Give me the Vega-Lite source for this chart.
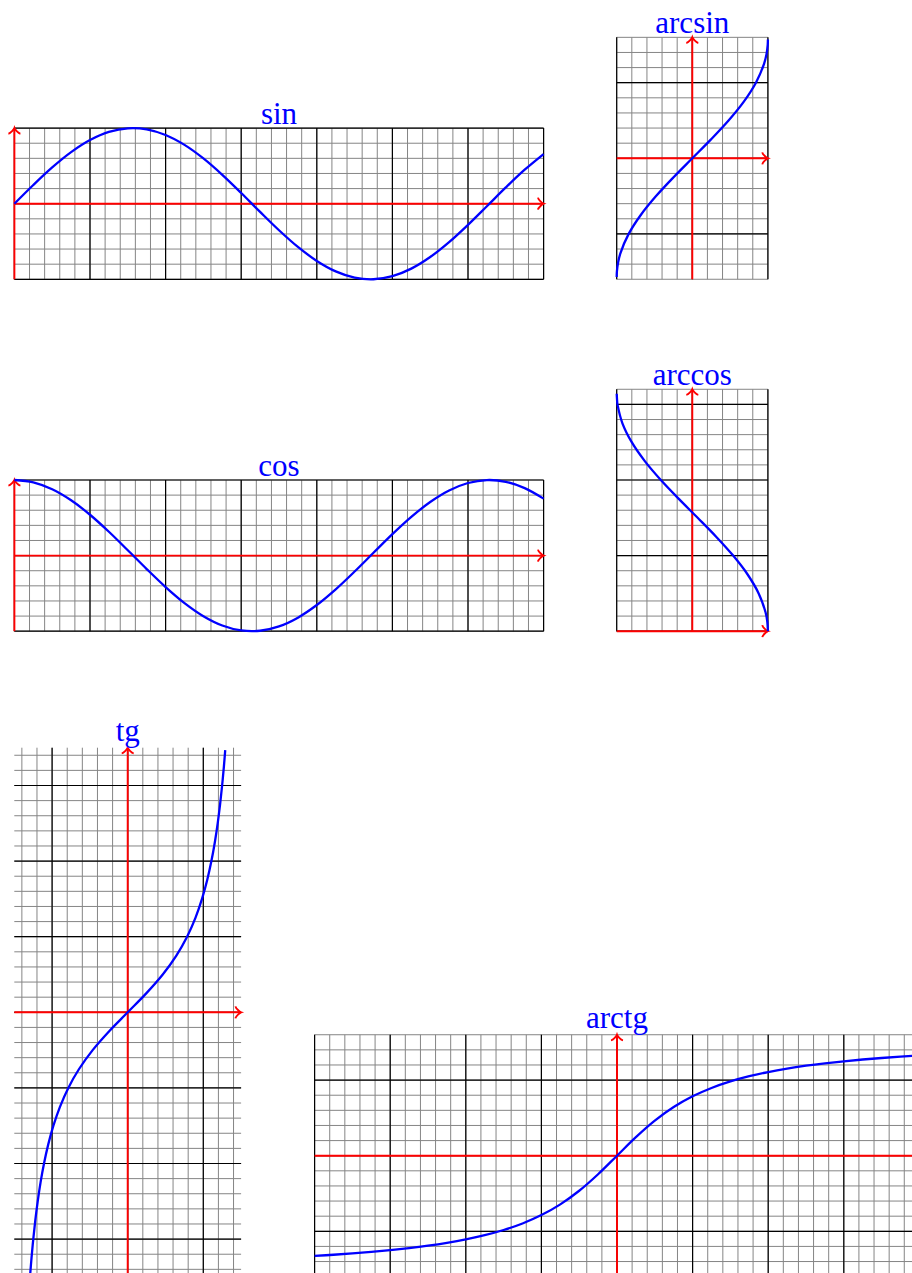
{
  "$schema": "https://vega.github.io/schema/vega-lite/v6.json",
  "padding": 0,
  "spacing": 0,
  "background": "white",
  "config": {"view": {"stroke": null}, "axis": {"disable": true}, "concat": {"spacing": 0}},
  "datasets": {
    "g": [{"v":-4},{"v":-3.8},{"v":-3.6},{"v":-3.4},{"v":-3.2},{"v":-3},{"v":-2.8},{"v":-2.6},{"v":-2.4},{"v":-2.2},{"v":-2},{"v":-1.8},{"v":-1.6},{"v":-1.4},{"v":-1.2},{"v":-1},{"v":-0.8},{"v":-0.6},{"v":-0.4},{"v":-0.2},{"v":0},{"v":0.2},{"v":0.4},{"v":0.6},{"v":0.8},{"v":1},{"v":1.2},{"v":1.4},{"v":1.6},{"v":1.8},{"v":2},{"v":2.2},{"v":2.4},{"v":2.6},{"v":2.8},{"v":3},{"v":3.2},{"v":3.4},{"v":3.6},{"v":3.8},{"v":4},{"v":4.2},{"v":4.4},{"v":4.6},{"v":4.8},{"v":5},{"v":5.2},{"v":5.4},{"v":5.6},{"v":5.8},{"v":6},{"v":6.2},{"v":6.4},{"v":6.6},{"v":6.8},{"v":7}],
    "gm": [{"v":-4},{"v":-3},{"v":-2},{"v":-1},{"v":0},{"v":1},{"v":2},{"v":3},{"v":4},{"v":5},{"v":6},{"v":7}],
    "sin": [{"x":0,"y":0},{"x":0.25,"y":0.2474},{"x":0.5,"y":0.4794},{"x":0.75,"y":0.6816},{"x":1,"y":0.8415},{"x":1.25,"y":0.949},{"x":1.5,"y":0.9975},{"x":1.75,"y":0.984},{"x":2,"y":0.9093},{"x":2.25,"y":0.7781},{"x":2.5,"y":0.5985},{"x":2.75,"y":0.3817},{"x":3,"y":0.1411},{"x":3.25,"y":-0.1082},{"x":3.5,"y":-0.3508},{"x":3.75,"y":-0.5716},{"x":4,"y":-0.7568},{"x":4.25,"y":-0.895},{"x":4.5,"y":-0.9775},{"x":4.75,"y":-0.9993},{"x":5,"y":-0.9589},{"x":5.25,"y":-0.8589},{"x":5.5,"y":-0.7055},{"x":5.75,"y":-0.5083},{"x":6,"y":-0.2794},{"x":6.25,"y":-0.0332},{"x":6.5,"y":0.2151},{"x":6.75,"y":0.45},{"x":7,"y":0.657}],
    "cos": [{"x":0,"y":1},{"x":0.25,"y":0.9689},{"x":0.5,"y":0.8776},{"x":0.75,"y":0.7317},{"x":1,"y":0.5403},{"x":1.25,"y":0.3153},{"x":1.5,"y":0.0707},{"x":1.75,"y":-0.1782},{"x":2,"y":-0.4161},{"x":2.25,"y":-0.6282},{"x":2.5,"y":-0.8011},{"x":2.75,"y":-0.9243},{"x":3,"y":-0.99},{"x":3.25,"y":-0.9941},{"x":3.5,"y":-0.9365},{"x":3.75,"y":-0.8206},{"x":4,"y":-0.6536},{"x":4.25,"y":-0.4461},{"x":4.5,"y":-0.2108},{"x":4.75,"y":0.0376},{"x":5,"y":0.2837},{"x":5.25,"y":0.512},{"x":5.5,"y":0.7087},{"x":5.75,"y":0.8612},{"x":6,"y":0.9602},{"x":6.25,"y":0.9994},{"x":6.5,"y":0.9766},{"x":6.75,"y":0.893},{"x":7,"y":0.7539}],
    "arcsin": [{"x":-1,"y":-1.5708},{"x":-0.9975,"y":-1.5},{"x":-0.9809,"y":-1.375},{"x":-0.949,"y":-1.25},{"x":-0.8415,"y":-1},{"x":-0.6816,"y":-0.75},{"x":-0.4794,"y":-0.5},{"x":-0.2474,"y":-0.25},{"x":0,"y":0},{"x":0.2474,"y":0.25},{"x":0.4794,"y":0.5},{"x":0.6816,"y":0.75},{"x":0.8415,"y":1},{"x":0.949,"y":1.25},{"x":0.9809,"y":1.375},{"x":0.9975,"y":1.5},{"x":1,"y":1.5708}],
    "arccos": [{"x":1,"y":0},{"x":0.9922,"y":0.125},{"x":0.9689,"y":0.25},{"x":0.8776,"y":0.5},{"x":0.7317,"y":0.75},{"x":0.5403,"y":1},{"x":0.3153,"y":1.25},{"x":0.0707,"y":1.5},{"x":-0.1782,"y":1.75},{"x":-0.4161,"y":2},{"x":-0.6282,"y":2.25},{"x":-0.8011,"y":2.5},{"x":-0.9243,"y":2.75},{"x":-0.99,"y":3},{"x":-0.9922,"y":3.0166},{"x":-1,"y":3.1416}],
    "tg": [{"x":-1.29,"y":-3.467},{"x":-1.2723,"y":-3.25},{"x":-1.249,"y":-3},{"x":-1.222,"y":-2.75},{"x":-1.1903,"y":-2.5},{"x":-1.1526,"y":-2.25},{"x":-1.1071,"y":-2},{"x":-1.0517,"y":-1.75},{"x":-0.9828,"y":-1.5},{"x":-0.8961,"y":-1.25},{"x":-0.7854,"y":-1},{"x":-0.6435,"y":-0.75},{"x":-0.4636,"y":-0.5},{"x":-0.245,"y":-0.25},{"x":0,"y":0},{"x":0.245,"y":0.25},{"x":0.4636,"y":0.5},{"x":0.6435,"y":0.75},{"x":0.7854,"y":1},{"x":0.8961,"y":1.25},{"x":0.9828,"y":1.5},{"x":1.0517,"y":1.75},{"x":1.1071,"y":2},{"x":1.1526,"y":2.25},{"x":1.1903,"y":2.5},{"x":1.222,"y":2.75},{"x":1.249,"y":3},{"x":1.2723,"y":3.25},{"x":1.29,"y":3.467}],
    "arctg": [{"x":-4,"y":-1.3258},{"x":-3.75,"y":-1.3102},{"x":-3.5,"y":-1.2925},{"x":-3.25,"y":-1.2723},{"x":-3,"y":-1.249},{"x":-2.75,"y":-1.222},{"x":-2.5,"y":-1.1903},{"x":-2.25,"y":-1.1526},{"x":-2,"y":-1.1071},{"x":-1.75,"y":-1.0517},{"x":-1.5,"y":-0.9828},{"x":-1.25,"y":-0.8961},{"x":-1,"y":-0.7854},{"x":-0.75,"y":-0.6435},{"x":-0.5,"y":-0.4636},{"x":-0.25,"y":-0.245},{"x":0,"y":0},{"x":0.25,"y":0.245},{"x":0.5,"y":0.4636},{"x":0.75,"y":0.6435},{"x":1,"y":0.7854},{"x":1.25,"y":0.8961},{"x":1.5,"y":0.9828},{"x":1.75,"y":1.0517},{"x":2,"y":1.1071},{"x":2.25,"y":1.1526},{"x":2.5,"y":1.1903},{"x":2.75,"y":1.222},{"x":3,"y":1.249},{"x":3.25,"y":1.2723},{"x":3.5,"y":1.2925},{"x":3.75,"y":1.3102},{"x":4,"y":1.3258}]
  },
  "vconcat": [
    {"spacing": 0, "hconcat": [
      {"width": 580, "height": 330, "layer": [
        {"data":{"name":"g"},"transform":[{"filter":"datum.v>-0.001&&datum.v<7.001"}],"mark":{"type":"rule","stroke":"#858585","strokeWidth":1},"encoding":{"x":{"field":"v","type":"quantitative","scale":{"domain":[-0.19048,7.48148],"nice":false,"zero":false}},"y":{"datum":-1,"type":"quantitative","scale":{"domain":[-1.67063,2.69444],"nice":false,"zero":false}},"y2":{"datum":1}}},
        {"data":{"name":"g"},"transform":[{"filter":"datum.v>-1.001&&datum.v<1.001"}],"mark":{"type":"rule","stroke":"#858585","strokeWidth":1},"encoding":{"y":{"field":"v","type":"quantitative","scale":{"domain":[-1.67063,2.69444],"nice":false,"zero":false}},"x":{"datum":0,"type":"quantitative","scale":{"domain":[-0.19048,7.48148],"nice":false,"zero":false}},"x2":{"datum":7}}},
        {"data":{"name":"gm"},"transform":[{"filter":"datum.v>-0.001&&datum.v<7.001"}],"mark":{"type":"rule","stroke":"#000000","strokeWidth":1.2},"encoding":{"x":{"field":"v","type":"quantitative","scale":{"domain":[-0.19048,7.48148],"nice":false,"zero":false}},"y":{"datum":-1,"type":"quantitative","scale":{"domain":[-1.67063,2.69444],"nice":false,"zero":false}},"y2":{"datum":1}}},
        {"data":{"name":"gm"},"transform":[{"filter":"datum.v>-1.001&&datum.v<1.001"}],"mark":{"type":"rule","stroke":"#000000","strokeWidth":1.2},"encoding":{"y":{"field":"v","type":"quantitative","scale":{"domain":[-1.67063,2.69444],"nice":false,"zero":false}},"x":{"datum":0,"type":"quantitative","scale":{"domain":[-0.19048,7.48148],"nice":false,"zero":false}},"x2":{"datum":7}}},
        {"data":{"values":[{}]},"mark":{"type":"rule","stroke":"#ff0000","strokeWidth":1.9},"encoding":{"x":{"datum":0,"type":"quantitative","scale":{"domain":[-0.19048,7.48148],"nice":false,"zero":false}},"x2":{"datum":7},"y":{"datum":0,"type":"quantitative","scale":{"domain":[-1.67063,2.69444],"nice":false,"zero":false}}}},
        {"data":{"values":[{}]},"mark":{"type":"rule","stroke":"#ff0000","strokeWidth":1.9},"encoding":{"x":{"datum":0,"type":"quantitative","scale":{"domain":[-0.19048,7.48148],"nice":false,"zero":false}},"y":{"datum":-1,"type":"quantitative","scale":{"domain":[-1.67063,2.69444],"nice":false,"zero":false}},"y2":{"datum":1}}},
        {"data":{"values":[{}]},"mark":{"type":"point","shape":"M-1,0.9375C-0.625,0.875 -0.0625,0.1875 0,0C0.0625,0.1875 0.625,0.875 1,0.9375","size":144,"filled":false,"stroke":"#ff0000","strokeWidth":1.9,"opacity":1},"encoding":{"x":{"datum":0,"type":"quantitative","scale":{"domain":[-0.19048,7.48148],"nice":false,"zero":false}},"y":{"datum":1,"type":"quantitative","scale":{"domain":[-1.67063,2.69444],"nice":false,"zero":false}}}},
        {"data":{"values":[{}]},"mark":{"type":"point","shape":"M-1,0.9375C-0.625,0.875 -0.0625,0.1875 0,0C0.0625,0.1875 0.625,0.875 1,0.9375","angle":90,"size":144,"filled":false,"stroke":"#ff0000","strokeWidth":1.9,"opacity":1},"encoding":{"x":{"datum":7,"type":"quantitative","scale":{"domain":[-0.19048,7.48148],"nice":false,"zero":false}},"y":{"datum":0,"type":"quantitative","scale":{"domain":[-1.67063,2.69444],"nice":false,"zero":false}}}},
        {"data":{"name":"sin"},"mark":{"type":"line","color":"#0000ff","strokeWidth":2.3,"interpolate":"catmull-rom"},"encoding":{"x":{"field":"x","type":"quantitative","scale":{"domain":[-0.19048,7.48148],"nice":false,"zero":false}},"y":{"field":"y","type":"quantitative","scale":{"domain":[-1.67063,2.69444],"nice":false,"zero":false}}}},
        {"data":{"values":[{"label":"sin"}]},"mark":{"type":"text","font":"Liberation Serif","fontSize":31,"color":"#0000ff","align":"center","baseline":"alphabetic","dy":-4},"encoding":{"x":{"datum":3.5,"type":"quantitative","scale":{"domain":[-0.19048,7.48148],"nice":false,"zero":false}},"y":{"datum":1,"type":"quantitative","scale":{"domain":[-1.67063,2.69444],"nice":false,"zero":false}},"text":{"field":"label"}}}
      ]},
      {"width": 332, "height": 330, "layer": [
        {"data":{"name":"g"},"transform":[{"filter":"datum.v>-1.001&&datum.v<1.001"}],"mark":{"type":"rule","stroke":"#858585","strokeWidth":1},"encoding":{"x":{"field":"v","type":"quantitative","scale":{"domain":[-1.48545,2.90608],"nice":false,"zero":false}},"y":{"datum":-1.6,"type":"quantitative","scale":{"domain":[-2.27116,2.09392],"nice":false,"zero":false}},"y2":{"datum":1.6}}},
        {"data":{"name":"g"},"transform":[{"filter":"datum.v>-1.601&&datum.v<1.601"}],"mark":{"type":"rule","stroke":"#858585","strokeWidth":1},"encoding":{"y":{"field":"v","type":"quantitative","scale":{"domain":[-2.27116,2.09392],"nice":false,"zero":false}},"x":{"datum":-1,"type":"quantitative","scale":{"domain":[-1.48545,2.90608],"nice":false,"zero":false}},"x2":{"datum":1}}},
        {"data":{"name":"gm"},"transform":[{"filter":"datum.v>-1.001&&datum.v<1.001"}],"mark":{"type":"rule","stroke":"#000000","strokeWidth":1.2},"encoding":{"x":{"field":"v","type":"quantitative","scale":{"domain":[-1.48545,2.90608],"nice":false,"zero":false}},"y":{"datum":-1.6,"type":"quantitative","scale":{"domain":[-2.27116,2.09392],"nice":false,"zero":false}},"y2":{"datum":1.6}}},
        {"data":{"name":"gm"},"transform":[{"filter":"datum.v>-1.601&&datum.v<1.601"}],"mark":{"type":"rule","stroke":"#000000","strokeWidth":1.2},"encoding":{"y":{"field":"v","type":"quantitative","scale":{"domain":[-2.27116,2.09392],"nice":false,"zero":false}},"x":{"datum":-1,"type":"quantitative","scale":{"domain":[-1.48545,2.90608],"nice":false,"zero":false}},"x2":{"datum":1}}},
        {"data":{"values":[{}]},"mark":{"type":"rule","stroke":"#ff0000","strokeWidth":1.9},"encoding":{"x":{"datum":-1,"type":"quantitative","scale":{"domain":[-1.48545,2.90608],"nice":false,"zero":false}},"x2":{"datum":1},"y":{"datum":0,"type":"quantitative","scale":{"domain":[-2.27116,2.09392],"nice":false,"zero":false}}}},
        {"data":{"values":[{}]},"mark":{"type":"rule","stroke":"#ff0000","strokeWidth":1.9},"encoding":{"x":{"datum":0,"type":"quantitative","scale":{"domain":[-1.48545,2.90608],"nice":false,"zero":false}},"y":{"datum":-1.6,"type":"quantitative","scale":{"domain":[-2.27116,2.09392],"nice":false,"zero":false}},"y2":{"datum":1.6}}},
        {"data":{"values":[{}]},"mark":{"type":"point","shape":"M-1,0.9375C-0.625,0.875 -0.0625,0.1875 0,0C0.0625,0.1875 0.625,0.875 1,0.9375","size":144,"filled":false,"stroke":"#ff0000","strokeWidth":1.9,"opacity":1},"encoding":{"x":{"datum":0,"type":"quantitative","scale":{"domain":[-1.48545,2.90608],"nice":false,"zero":false}},"y":{"datum":1.6,"type":"quantitative","scale":{"domain":[-2.27116,2.09392],"nice":false,"zero":false}}}},
        {"data":{"values":[{}]},"mark":{"type":"point","shape":"M-1,0.9375C-0.625,0.875 -0.0625,0.1875 0,0C0.0625,0.1875 0.625,0.875 1,0.9375","angle":90,"size":144,"filled":false,"stroke":"#ff0000","strokeWidth":1.9,"opacity":1},"encoding":{"x":{"datum":1,"type":"quantitative","scale":{"domain":[-1.48545,2.90608],"nice":false,"zero":false}},"y":{"datum":0,"type":"quantitative","scale":{"domain":[-2.27116,2.09392],"nice":false,"zero":false}}}},
        {"data":{"name":"arcsin"},"mark":{"type":"line","color":"#0000ff","strokeWidth":2.3,"interpolate":"catmull-rom"},"encoding":{"x":{"field":"x","type":"quantitative","scale":{"domain":[-1.48545,2.90608],"nice":false,"zero":false}},"y":{"field":"y","type":"quantitative","scale":{"domain":[-2.27116,2.09392],"nice":false,"zero":false}}}},
        {"data":{"values":[{"label":"arcsin"}]},"mark":{"type":"text","font":"Liberation Serif","fontSize":31,"color":"#0000ff","align":"center","baseline":"alphabetic","dy":-4.6},"encoding":{"x":{"datum":0,"type":"quantitative","scale":{"domain":[-1.48545,2.90608],"nice":false,"zero":false}},"y":{"datum":1.6,"type":"quantitative","scale":{"domain":[-2.27116,2.09392],"nice":false,"zero":false}},"text":{"field":"label"}}}
      ]}
    ]},
    {"spacing": 0, "hconcat": [
      {"width": 580, "height": 360, "layer": [
        {"data":{"name":"g"},"transform":[{"filter":"datum.v>-0.001&&datum.v<7.001"}],"mark":{"type":"rule","stroke":"#858585","strokeWidth":1},"encoding":{"x":{"field":"v","type":"quantitative","scale":{"domain":[-0.19048,7.48148],"nice":false,"zero":false}},"y":{"datum":-1,"type":"quantitative","scale":{"domain":[-1.77778,2.98413],"nice":false,"zero":false}},"y2":{"datum":1}}},
        {"data":{"name":"g"},"transform":[{"filter":"datum.v>-1.001&&datum.v<1.001"}],"mark":{"type":"rule","stroke":"#858585","strokeWidth":1},"encoding":{"y":{"field":"v","type":"quantitative","scale":{"domain":[-1.77778,2.98413],"nice":false,"zero":false}},"x":{"datum":0,"type":"quantitative","scale":{"domain":[-0.19048,7.48148],"nice":false,"zero":false}},"x2":{"datum":7}}},
        {"data":{"name":"gm"},"transform":[{"filter":"datum.v>-0.001&&datum.v<7.001"}],"mark":{"type":"rule","stroke":"#000000","strokeWidth":1.2},"encoding":{"x":{"field":"v","type":"quantitative","scale":{"domain":[-0.19048,7.48148],"nice":false,"zero":false}},"y":{"datum":-1,"type":"quantitative","scale":{"domain":[-1.77778,2.98413],"nice":false,"zero":false}},"y2":{"datum":1}}},
        {"data":{"name":"gm"},"transform":[{"filter":"datum.v>-1.001&&datum.v<1.001"}],"mark":{"type":"rule","stroke":"#000000","strokeWidth":1.2},"encoding":{"y":{"field":"v","type":"quantitative","scale":{"domain":[-1.77778,2.98413],"nice":false,"zero":false}},"x":{"datum":0,"type":"quantitative","scale":{"domain":[-0.19048,7.48148],"nice":false,"zero":false}},"x2":{"datum":7}}},
        {"data":{"values":[{}]},"mark":{"type":"rule","stroke":"#ff0000","strokeWidth":1.9},"encoding":{"x":{"datum":0,"type":"quantitative","scale":{"domain":[-0.19048,7.48148],"nice":false,"zero":false}},"x2":{"datum":7},"y":{"datum":0,"type":"quantitative","scale":{"domain":[-1.77778,2.98413],"nice":false,"zero":false}}}},
        {"data":{"values":[{}]},"mark":{"type":"rule","stroke":"#ff0000","strokeWidth":1.9},"encoding":{"x":{"datum":0,"type":"quantitative","scale":{"domain":[-0.19048,7.48148],"nice":false,"zero":false}},"y":{"datum":-1,"type":"quantitative","scale":{"domain":[-1.77778,2.98413],"nice":false,"zero":false}},"y2":{"datum":1}}},
        {"data":{"values":[{}]},"mark":{"type":"point","shape":"M-1,0.9375C-0.625,0.875 -0.0625,0.1875 0,0C0.0625,0.1875 0.625,0.875 1,0.9375","size":144,"filled":false,"stroke":"#ff0000","strokeWidth":1.9,"opacity":1},"encoding":{"x":{"datum":0,"type":"quantitative","scale":{"domain":[-0.19048,7.48148],"nice":false,"zero":false}},"y":{"datum":1,"type":"quantitative","scale":{"domain":[-1.77778,2.98413],"nice":false,"zero":false}}}},
        {"data":{"values":[{}]},"mark":{"type":"point","shape":"M-1,0.9375C-0.625,0.875 -0.0625,0.1875 0,0C0.0625,0.1875 0.625,0.875 1,0.9375","angle":90,"size":144,"filled":false,"stroke":"#ff0000","strokeWidth":1.9,"opacity":1},"encoding":{"x":{"datum":7,"type":"quantitative","scale":{"domain":[-0.19048,7.48148],"nice":false,"zero":false}},"y":{"datum":0,"type":"quantitative","scale":{"domain":[-1.77778,2.98413],"nice":false,"zero":false}}}},
        {"data":{"name":"cos"},"mark":{"type":"line","color":"#0000ff","strokeWidth":2.3,"interpolate":"catmull-rom"},"encoding":{"x":{"field":"x","type":"quantitative","scale":{"domain":[-0.19048,7.48148],"nice":false,"zero":false}},"y":{"field":"y","type":"quantitative","scale":{"domain":[-1.77778,2.98413],"nice":false,"zero":false}}}},
        {"data":{"values":[{"label":"cos"}]},"mark":{"type":"text","font":"Liberation Serif","fontSize":31,"color":"#0000ff","align":"center","baseline":"alphabetic","dy":-4},"encoding":{"x":{"datum":3.5,"type":"quantitative","scale":{"domain":[-0.19048,7.48148],"nice":false,"zero":false}},"y":{"datum":1,"type":"quantitative","scale":{"domain":[-1.77778,2.98413],"nice":false,"zero":false}},"text":{"field":"label"}}}
      ]},
      {"width": 332, "height": 360, "layer": [
        {"data":{"name":"g"},"transform":[{"filter":"datum.v>-1.001&&datum.v<1.001"}],"mark":{"type":"rule","stroke":"#858585","strokeWidth":1},"encoding":{"x":{"field":"v","type":"quantitative","scale":{"domain":[-1.48545,2.90608],"nice":false,"zero":false}},"y":{"datum":0,"type":"quantitative","scale":{"domain":[-0.77778,3.98413],"nice":false,"zero":false}},"y2":{"datum":3.2}}},
        {"data":{"name":"g"},"transform":[{"filter":"datum.v>-0.001&&datum.v<3.201"}],"mark":{"type":"rule","stroke":"#858585","strokeWidth":1},"encoding":{"y":{"field":"v","type":"quantitative","scale":{"domain":[-0.77778,3.98413],"nice":false,"zero":false}},"x":{"datum":-1,"type":"quantitative","scale":{"domain":[-1.48545,2.90608],"nice":false,"zero":false}},"x2":{"datum":1}}},
        {"data":{"name":"gm"},"transform":[{"filter":"datum.v>-1.001&&datum.v<1.001"}],"mark":{"type":"rule","stroke":"#000000","strokeWidth":1.2},"encoding":{"x":{"field":"v","type":"quantitative","scale":{"domain":[-1.48545,2.90608],"nice":false,"zero":false}},"y":{"datum":0,"type":"quantitative","scale":{"domain":[-0.77778,3.98413],"nice":false,"zero":false}},"y2":{"datum":3.2}}},
        {"data":{"name":"gm"},"transform":[{"filter":"datum.v>-0.001&&datum.v<3.201"}],"mark":{"type":"rule","stroke":"#000000","strokeWidth":1.2},"encoding":{"y":{"field":"v","type":"quantitative","scale":{"domain":[-0.77778,3.98413],"nice":false,"zero":false}},"x":{"datum":-1,"type":"quantitative","scale":{"domain":[-1.48545,2.90608],"nice":false,"zero":false}},"x2":{"datum":1}}},
        {"data":{"values":[{}]},"mark":{"type":"rule","stroke":"#ff0000","strokeWidth":1.9},"encoding":{"x":{"datum":-1,"type":"quantitative","scale":{"domain":[-1.48545,2.90608],"nice":false,"zero":false}},"x2":{"datum":1},"y":{"datum":0,"type":"quantitative","scale":{"domain":[-0.77778,3.98413],"nice":false,"zero":false}}}},
        {"data":{"values":[{}]},"mark":{"type":"rule","stroke":"#ff0000","strokeWidth":1.9},"encoding":{"x":{"datum":0,"type":"quantitative","scale":{"domain":[-1.48545,2.90608],"nice":false,"zero":false}},"y":{"datum":0,"type":"quantitative","scale":{"domain":[-0.77778,3.98413],"nice":false,"zero":false}},"y2":{"datum":3.2}}},
        {"data":{"values":[{}]},"mark":{"type":"point","shape":"M-1,0.9375C-0.625,0.875 -0.0625,0.1875 0,0C0.0625,0.1875 0.625,0.875 1,0.9375","size":144,"filled":false,"stroke":"#ff0000","strokeWidth":1.9,"opacity":1},"encoding":{"x":{"datum":0,"type":"quantitative","scale":{"domain":[-1.48545,2.90608],"nice":false,"zero":false}},"y":{"datum":3.2,"type":"quantitative","scale":{"domain":[-0.77778,3.98413],"nice":false,"zero":false}}}},
        {"data":{"values":[{}]},"mark":{"type":"point","shape":"M-1,0.9375C-0.625,0.875 -0.0625,0.1875 0,0C0.0625,0.1875 0.625,0.875 1,0.9375","angle":90,"size":144,"filled":false,"stroke":"#ff0000","strokeWidth":1.9,"opacity":1},"encoding":{"x":{"datum":1,"type":"quantitative","scale":{"domain":[-1.48545,2.90608],"nice":false,"zero":false}},"y":{"datum":0,"type":"quantitative","scale":{"domain":[-0.77778,3.98413],"nice":false,"zero":false}}}},
        {"data":{"name":"arccos"},"mark":{"type":"line","color":"#0000ff","strokeWidth":2.3,"interpolate":"catmull-rom"},"encoding":{"x":{"field":"x","type":"quantitative","scale":{"domain":[-1.48545,2.90608],"nice":false,"zero":false}},"y":{"field":"y","type":"quantitative","scale":{"domain":[-0.77778,3.98413],"nice":false,"zero":false}}}},
        {"data":{"values":[{"label":"arccos"}]},"mark":{"type":"text","font":"Liberation Serif","fontSize":31,"color":"#0000ff","align":"center","baseline":"alphabetic","dy":-4.6},"encoding":{"x":{"datum":0,"type":"quantitative","scale":{"domain":[-1.48545,2.90608],"nice":false,"zero":false}},"y":{"datum":3.2,"type":"quantitative","scale":{"domain":[-0.77778,3.98413],"nice":false,"zero":false}},"text":{"field":"label"}}}
      ]}
    ]},
    {"spacing": 0, "hconcat": [
      {"width": 278, "height": 583, "layer": [
        {"data":{"name":"g"},"transform":[{"filter":"datum.v>-1.5&&datum.v<1.5"}],"mark":{"type":"rule","stroke":"#858585","strokeWidth":1,"clip":true},"encoding":{"x":{"field":"v","type":"quantitative","scale":{"domain":[-1.68915,1.9881],"nice":false,"zero":false}},"y":{"datum":-3.5,"type":"quantitative","scale":{"domain":[-3.44841,4.26323],"nice":false,"zero":false}},"y2":{"datum":3.5}}},
        {"data":{"name":"g"},"transform":[{"filter":"datum.v>-3.5&&datum.v<3.5"}],"mark":{"type":"rule","stroke":"#858585","strokeWidth":1,"clip":true},"encoding":{"y":{"field":"v","type":"quantitative","scale":{"domain":[-3.44841,4.26323],"nice":false,"zero":false}},"x":{"datum":-1.5,"type":"quantitative","scale":{"domain":[-1.68915,1.9881],"nice":false,"zero":false}},"x2":{"datum":1.5}}},
        {"data":{"name":"gm"},"transform":[{"filter":"datum.v>-1.5&&datum.v<1.5"}],"mark":{"type":"rule","stroke":"#000000","strokeWidth":1.2,"clip":true},"encoding":{"x":{"field":"v","type":"quantitative","scale":{"domain":[-1.68915,1.9881],"nice":false,"zero":false}},"y":{"datum":-3.5,"type":"quantitative","scale":{"domain":[-3.44841,4.26323],"nice":false,"zero":false}},"y2":{"datum":3.5}}},
        {"data":{"name":"gm"},"transform":[{"filter":"datum.v>-3.5&&datum.v<3.5"}],"mark":{"type":"rule","stroke":"#000000","strokeWidth":1.2,"clip":true},"encoding":{"y":{"field":"v","type":"quantitative","scale":{"domain":[-3.44841,4.26323],"nice":false,"zero":false}},"x":{"datum":-1.5,"type":"quantitative","scale":{"domain":[-1.68915,1.9881],"nice":false,"zero":false}},"x2":{"datum":1.5}}},
        {"data":{"values":[{}]},"mark":{"type":"rule","stroke":"#ff0000","strokeWidth":1.9,"clip":true},"encoding":{"x":{"datum":-1.5,"type":"quantitative","scale":{"domain":[-1.68915,1.9881],"nice":false,"zero":false}},"x2":{"datum":1.5},"y":{"datum":0,"type":"quantitative","scale":{"domain":[-3.44841,4.26323],"nice":false,"zero":false}}}},
        {"data":{"values":[{}]},"mark":{"type":"rule","stroke":"#ff0000","strokeWidth":1.9,"clip":true},"encoding":{"x":{"datum":0,"type":"quantitative","scale":{"domain":[-1.68915,1.9881],"nice":false,"zero":false}},"y":{"datum":-3.5,"type":"quantitative","scale":{"domain":[-3.44841,4.26323],"nice":false,"zero":false}},"y2":{"datum":3.5}}},
        {"data":{"values":[{}]},"mark":{"type":"point","shape":"M-1,0.9375C-0.625,0.875 -0.0625,0.1875 0,0C0.0625,0.1875 0.625,0.875 1,0.9375","size":144,"filled":false,"stroke":"#ff0000","strokeWidth":1.9,"opacity":1,"clip":true},"encoding":{"x":{"datum":0,"type":"quantitative","scale":{"domain":[-1.68915,1.9881],"nice":false,"zero":false}},"y":{"datum":3.5,"type":"quantitative","scale":{"domain":[-3.44841,4.26323],"nice":false,"zero":false}}}},
        {"data":{"values":[{}]},"mark":{"type":"point","shape":"M-1,0.9375C-0.625,0.875 -0.0625,0.1875 0,0C0.0625,0.1875 0.625,0.875 1,0.9375","angle":90,"size":144,"filled":false,"stroke":"#ff0000","strokeWidth":1.9,"opacity":1,"clip":true},"encoding":{"x":{"datum":1.5,"type":"quantitative","scale":{"domain":[-1.68915,1.9881],"nice":false,"zero":false}},"y":{"datum":0,"type":"quantitative","scale":{"domain":[-3.44841,4.26323],"nice":false,"zero":false}}}},
        {"data":{"name":"tg"},"mark":{"type":"line","color":"#0000ff","strokeWidth":2.3,"interpolate":"catmull-rom","clip":true},"encoding":{"x":{"field":"x","type":"quantitative","scale":{"domain":[-1.68915,1.9881],"nice":false,"zero":false}},"y":{"field":"y","type":"quantitative","scale":{"domain":[-3.44841,4.26323],"nice":false,"zero":false}}}},
        {"data":{"values":[{"label":"tg"}]},"mark":{"type":"text","font":"Liberation Serif","fontSize":31,"color":"#0000ff","align":"center","baseline":"alphabetic","dy":-7},"encoding":{"x":{"datum":0,"type":"quantitative","scale":{"domain":[-1.68915,1.9881],"nice":false,"zero":false}},"y":{"datum":3.5,"type":"quantitative","scale":{"domain":[-3.44841,4.26323],"nice":false,"zero":false}},"text":{"field":"label"}}}
      ]},
      {"width": 634, "height": 583, "layer": [
        {"data":{"name":"g"},"transform":[{"filter":"datum.v>-4.001&&datum.v<4.001"}],"mark":{"type":"rule","stroke":"#858585","strokeWidth":1,"clip":true},"encoding":{"x":{"field":"v","type":"quantitative","scale":{"domain":[-4.48413,3.90212],"nice":false,"zero":false}},"y":{"datum":-1.6,"type":"quantitative","scale":{"domain":[-1.55159,6.16005],"nice":false,"zero":false}},"y2":{"datum":1.6}}},
        {"data":{"name":"g"},"transform":[{"filter":"datum.v>-1.601&&datum.v<1.601"}],"mark":{"type":"rule","stroke":"#858585","strokeWidth":1,"clip":true},"encoding":{"y":{"field":"v","type":"quantitative","scale":{"domain":[-1.55159,6.16005],"nice":false,"zero":false}},"x":{"datum":-4,"type":"quantitative","scale":{"domain":[-4.48413,3.90212],"nice":false,"zero":false}},"x2":{"datum":4}}},
        {"data":{"name":"gm"},"transform":[{"filter":"datum.v>-4.001&&datum.v<4.001"}],"mark":{"type":"rule","stroke":"#000000","strokeWidth":1.2,"clip":true},"encoding":{"x":{"field":"v","type":"quantitative","scale":{"domain":[-4.48413,3.90212],"nice":false,"zero":false}},"y":{"datum":-1.6,"type":"quantitative","scale":{"domain":[-1.55159,6.16005],"nice":false,"zero":false}},"y2":{"datum":1.6}}},
        {"data":{"name":"gm"},"transform":[{"filter":"datum.v>-1.601&&datum.v<1.601"}],"mark":{"type":"rule","stroke":"#000000","strokeWidth":1.2,"clip":true},"encoding":{"y":{"field":"v","type":"quantitative","scale":{"domain":[-1.55159,6.16005],"nice":false,"zero":false}},"x":{"datum":-4,"type":"quantitative","scale":{"domain":[-4.48413,3.90212],"nice":false,"zero":false}},"x2":{"datum":4}}},
        {"data":{"values":[{}]},"mark":{"type":"rule","stroke":"#ff0000","strokeWidth":1.9,"clip":true},"encoding":{"x":{"datum":-4,"type":"quantitative","scale":{"domain":[-4.48413,3.90212],"nice":false,"zero":false}},"x2":{"datum":4},"y":{"datum":0,"type":"quantitative","scale":{"domain":[-1.55159,6.16005],"nice":false,"zero":false}}}},
        {"data":{"values":[{}]},"mark":{"type":"rule","stroke":"#ff0000","strokeWidth":1.9,"clip":true},"encoding":{"x":{"datum":0,"type":"quantitative","scale":{"domain":[-4.48413,3.90212],"nice":false,"zero":false}},"y":{"datum":-1.6,"type":"quantitative","scale":{"domain":[-1.55159,6.16005],"nice":false,"zero":false}},"y2":{"datum":1.6}}},
        {"data":{"values":[{}]},"mark":{"type":"point","shape":"M-1,0.9375C-0.625,0.875 -0.0625,0.1875 0,0C0.0625,0.1875 0.625,0.875 1,0.9375","size":144,"filled":false,"stroke":"#ff0000","strokeWidth":1.9,"opacity":1,"clip":true},"encoding":{"x":{"datum":0,"type":"quantitative","scale":{"domain":[-4.48413,3.90212],"nice":false,"zero":false}},"y":{"datum":1.6,"type":"quantitative","scale":{"domain":[-1.55159,6.16005],"nice":false,"zero":false}}}},
        {"data":{"values":[{}]},"mark":{"type":"point","shape":"M-1,0.9375C-0.625,0.875 -0.0625,0.1875 0,0C0.0625,0.1875 0.625,0.875 1,0.9375","angle":90,"size":144,"filled":false,"stroke":"#ff0000","strokeWidth":1.9,"opacity":1,"clip":true},"encoding":{"x":{"datum":4,"type":"quantitative","scale":{"domain":[-4.48413,3.90212],"nice":false,"zero":false}},"y":{"datum":0,"type":"quantitative","scale":{"domain":[-1.55159,6.16005],"nice":false,"zero":false}}}},
        {"data":{"name":"arctg"},"mark":{"type":"line","color":"#0000ff","strokeWidth":2.3,"interpolate":"catmull-rom","clip":true},"encoding":{"x":{"field":"x","type":"quantitative","scale":{"domain":[-4.48413,3.90212],"nice":false,"zero":false}},"y":{"field":"y","type":"quantitative","scale":{"domain":[-1.55159,6.16005],"nice":false,"zero":false}}}},
        {"data":{"values":[{"label":"arctg"}]},"mark":{"type":"text","font":"Liberation Serif","fontSize":31,"color":"#0000ff","align":"center","baseline":"alphabetic","dy":-7},"encoding":{"x":{"datum":0,"type":"quantitative","scale":{"domain":[-4.48413,3.90212],"nice":false,"zero":false}},"y":{"datum":1.6,"type":"quantitative","scale":{"domain":[-1.55159,6.16005],"nice":false,"zero":false}},"text":{"field":"label"}}}
      ]}
    ]}
  ]
}
